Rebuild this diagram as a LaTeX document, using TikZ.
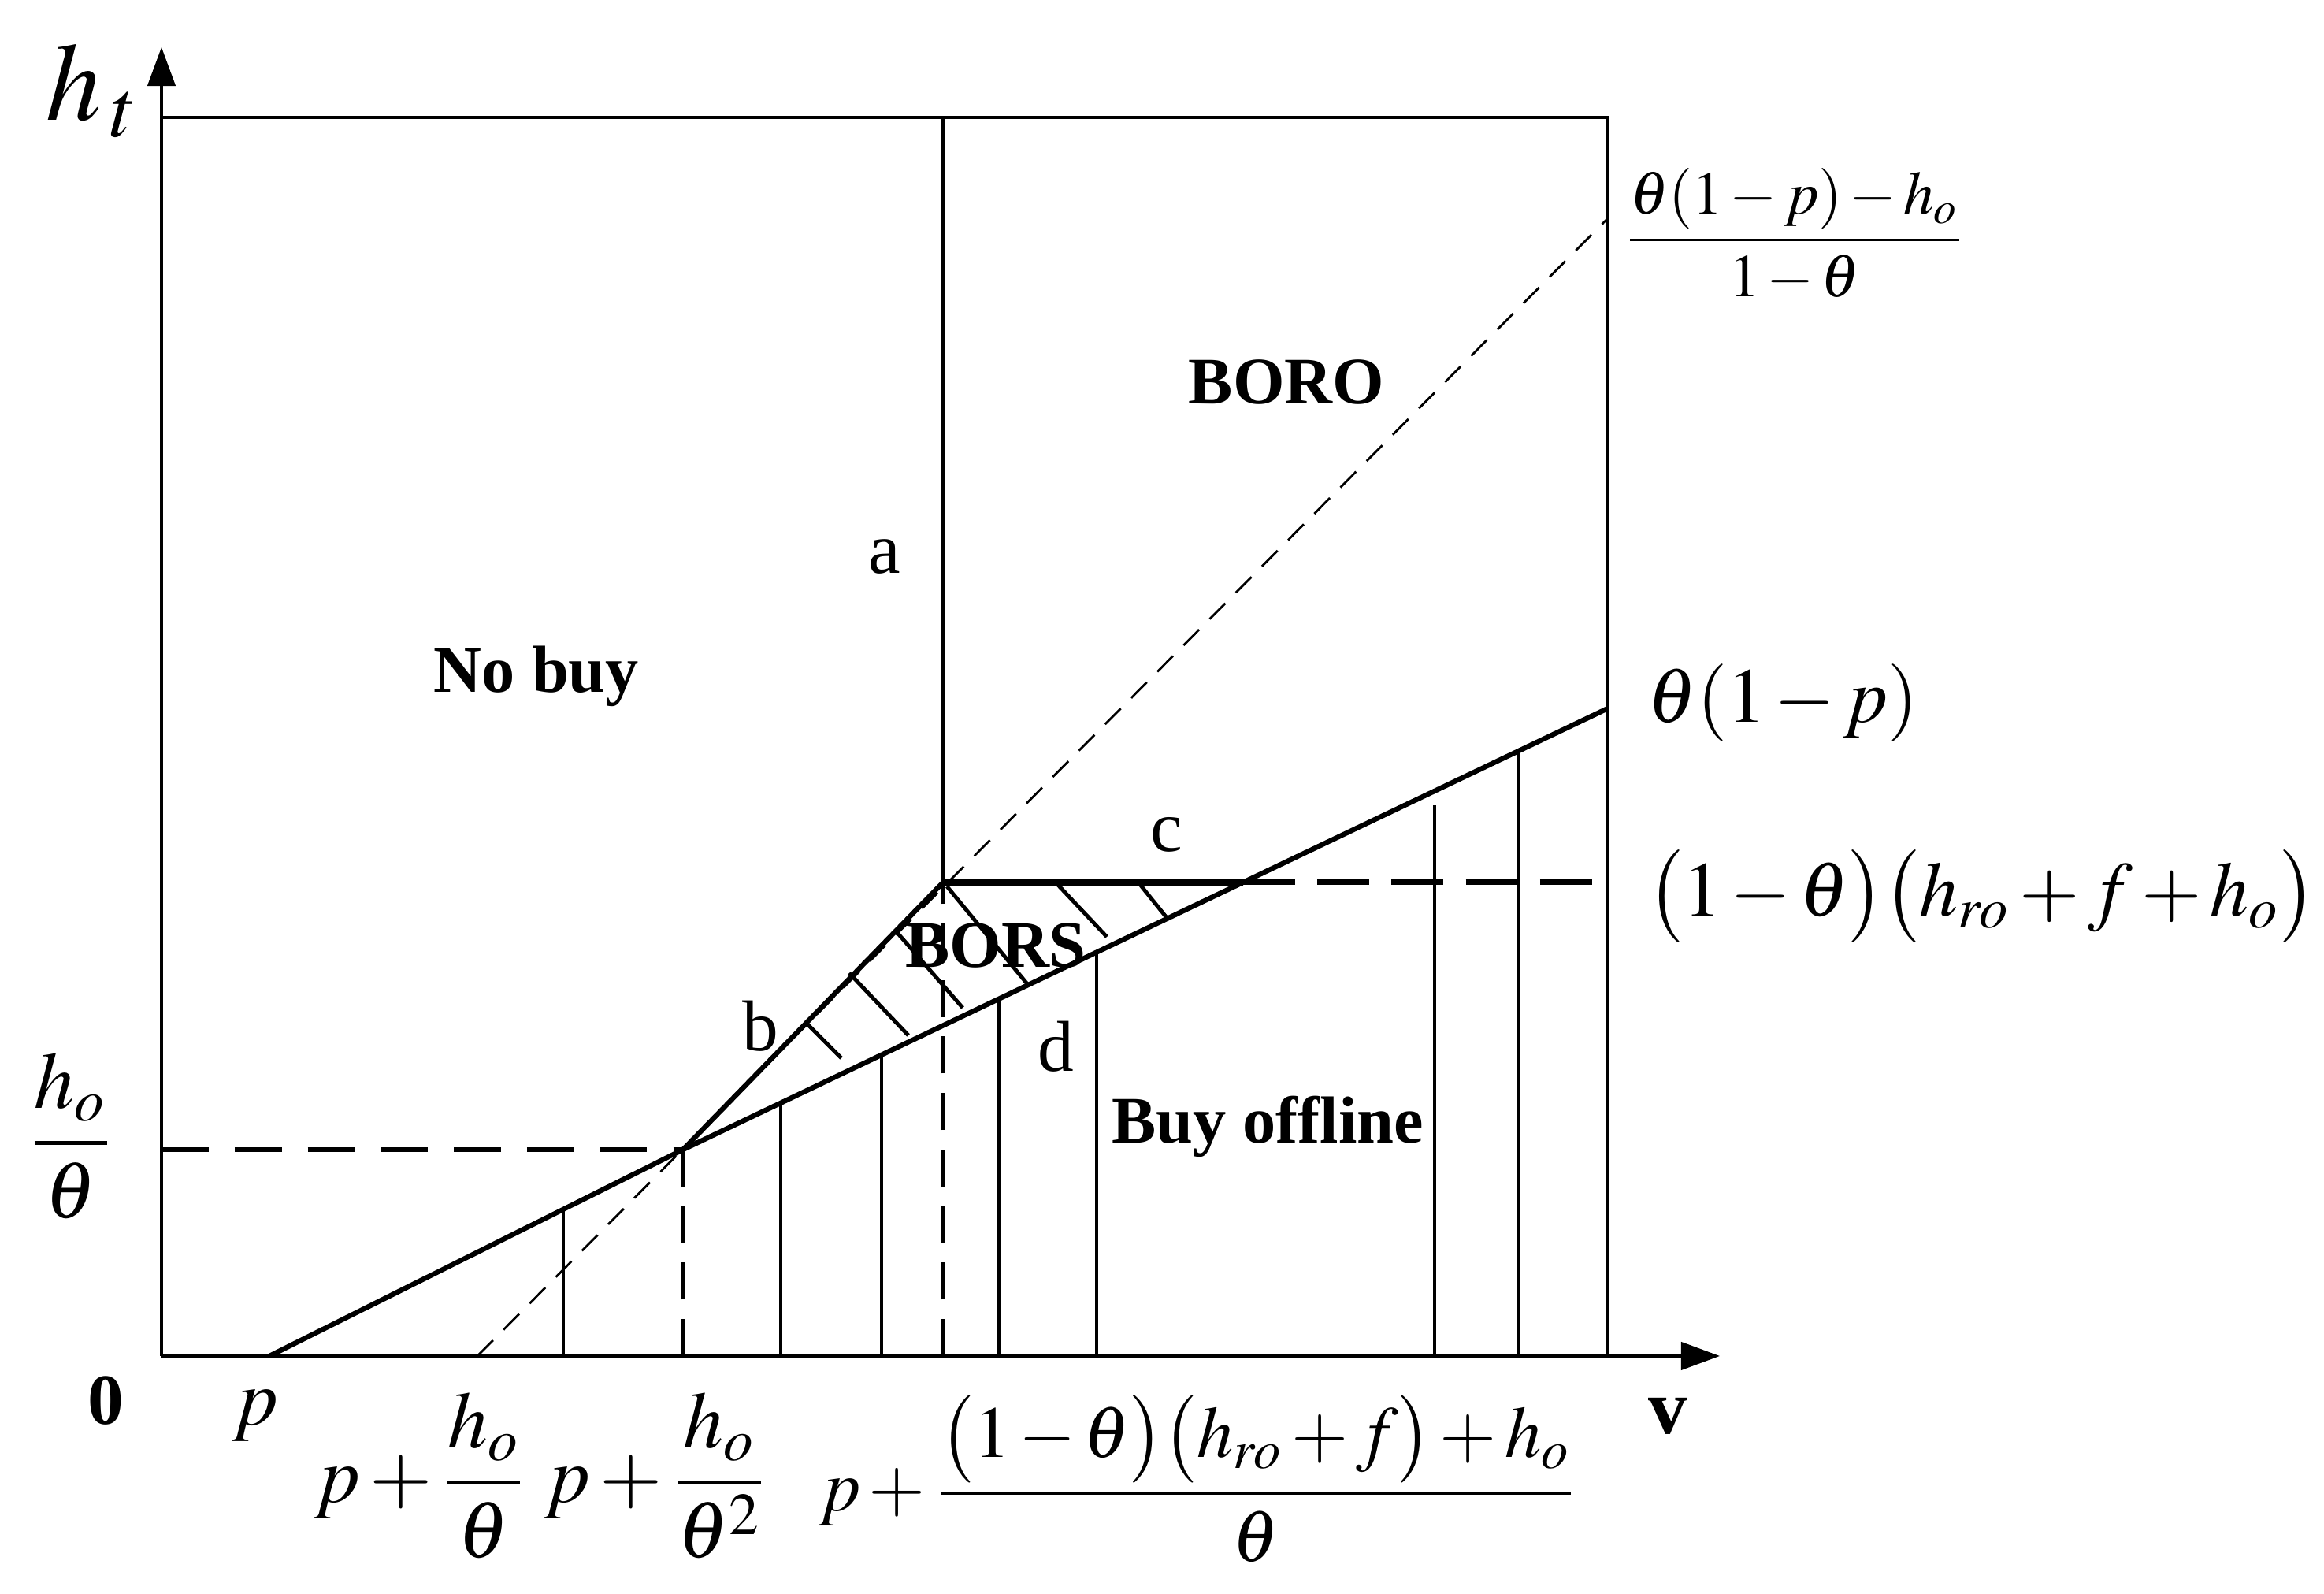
\documentclass[tikz,border=0pt]{standalone}
\usepackage{amsmath}
\usepackage{mathptmx}
\usepackage[no-math]{fontspec}
\setmainfont{Liberation Serif}
\usetikzlibrary{arrows.meta}
\medmuskip=2mu plus 1mu minus 1mu

\begin{document}
\begin{tikzpicture}[x=0.5cm,y=0.5cm,>={Triangle[length=7pt,width=5pt]},
	frameline/.style={line width=0.5pt},
	thickline/.style={line width=0.9pt},
	stripe/.style={line width=0.7pt},
	region/.style={inner sep=0pt,font=\fontsize{12}{14}\selectfont\bfseries},
	letter/.style={inner sep=0pt,font=\fontsize{13}{15}\selectfont},
	mathlabel/.style={inner sep=0pt,font=\fontsize{14.5}{16}\selectfont}]
	\useasboundingbox (-2.05,-3.02) rectangle (27.45,17.21);
	% corner points of the regions
	\coordinate (O) at (0,0);
	\coordinate (P) at (1.37,0);
	\coordinate (Q) at (4.01,0);
	\coordinate (K) at (6.62,2.62);
	\coordinate (A) at (9.92,6.01);
	\coordinate (C) at (13.73,6.01);
	\coordinate (R) at (18.36,8.22);
	\coordinate (S) at (18.36,14.44);
	\coordinate (T) at (18.36,15.72);
	\coordinate (Xend) at (19.78,0);
	\coordinate (Yend) at (0,16.61);
	% frame and axes
	\draw [frameline] (0,15.72) -- (T) -- (18.36,0);
	\draw [line width=0.6pt, ->] (O) -- (Xend);
	\draw [line width=0.6pt, ->] (O) -- (Yend);
	% boundaries
	\draw [line width=0.4pt, dash pattern=on 4pt off 2.7pt] (Q) -- (S);
	\draw [thickline] (P) -- (K) -- (R);
	\draw [thickline] (K) -- (A);
	\draw [line width=1.1pt] (A) -- (C);
	\draw [line width=1pt, dash pattern=on 9.4pt off 4pt] (C) -- (18.36,6.01);
	\draw [stripe] (A) -- (9.92,15.72);
	\draw [line width=0.6pt, dash pattern=on 6.7pt off 3.5pt] (9.92,0) -- (A);
	\draw [line width=0.6pt, dash pattern=on 6.7pt off 3.5pt] (6.62,0) -- (K);
	\draw [line width=0.9pt, dash pattern=on 8.5pt off 4.7pt] (0,2.62) -- (K);
	% vertical stripes of buy offline
	\foreach \x/\y in {5.10/1.86, 7.86/3.21, 9.14/3.82, 10.63/4.53, 11.87/5.12, 16.16/6.99, 17.23/7.68}
		\draw [stripe] (\x,0) -- (\x,\y);
	% hatching of BORS
	\foreach \a/\b/\c/\d in {8.18/4.23/8.63/3.78, 8.73/4.86/9.48/4.07, 9.35/5.36/10.17/4.42,
		9.97/5.96/11.00/4.71, 11.35/6.01/12.00/5.32, 12.40/6.01/12.77/5.55}
		\draw [stripe] (\a,\b) -- (\c,\d);
	% region names
	\node [region] (nobuy) at (4.76,8.63) {No buy};
	\node [region] (boro) at (14.28,12.36) {BORO};
	\node [region] (bors) at (10.59,5.21) {BORS};
	\node [region] (offline) at (14.04,2.91) {Buy offline};
	\node [letter] (la) at (9.18,10.14) {a};
	\node [letter] (lb) at (7.60,4.19) {b};
	\node [letter] (lc) at (12.76,6.62) {c};
	\node [letter] (ld) at (11.35,3.93) {d};
	% axis labels
	\node [inner sep=0pt, font=\fontsize{20}{22}\selectfont] (ht) at (-0.87,16.06) {$h_{\,t}$};
	\node [inner sep=0pt, font=\fontsize{13}{15}\selectfont\bfseries] (zero) at (-0.71,-0.57) {0};
	\node [inner sep=0pt, font=\fontsize{14}{16}\selectfont\bfseries] (v) at (19.12,-0.76) {v};
	\node [mathlabel] (p) at (1.19,-0.76) {$p$};
	\node [mathlabel, anchor=base] (p1) at (3.29,-1.86) {$p+\dfrac{h_o}{\theta}$};
	\node [mathlabel, anchor=base] (p2) at (6.28,-1.86) {$p+\dfrac{h_o}{\theta^2}$};
	\node [mathlabel, anchor=base, font=\fontsize{13.2}{15}\selectfont] (p3) at (13.16,-1.97)
		{$p+\dfrac{\bigl(1-\theta\bigr)\bigl(h_{ro}+f\bigr)+h_o}{\theta}$};
	\node [mathlabel, anchor=base] (hk) at (-1.15,2.45) {$\dfrac{h_o}{\theta}$};
	% labels on the right
	\node [inner sep=0pt, anchor=base, font=\fontsize{11}{12}\selectfont] (top) at (20.73,13.97)
		{$\dfrac{\theta(1-p)-h_o}{1-\theta}$};
	\node [inner sep=0pt, anchor=west, font=\fontsize{14}{16}\selectfont] (mid) at (18.85,8.29) {$\theta(1-p)$};
	\node [inner sep=0pt, anchor=west, font=\fontsize{14}{16}\selectfont] (low) at (18.85,5.83)
		{$\bigl(1-\theta\bigr)\bigl(h_{ro}+f+h_o\bigr)$};
\end{tikzpicture}
\end{document}
